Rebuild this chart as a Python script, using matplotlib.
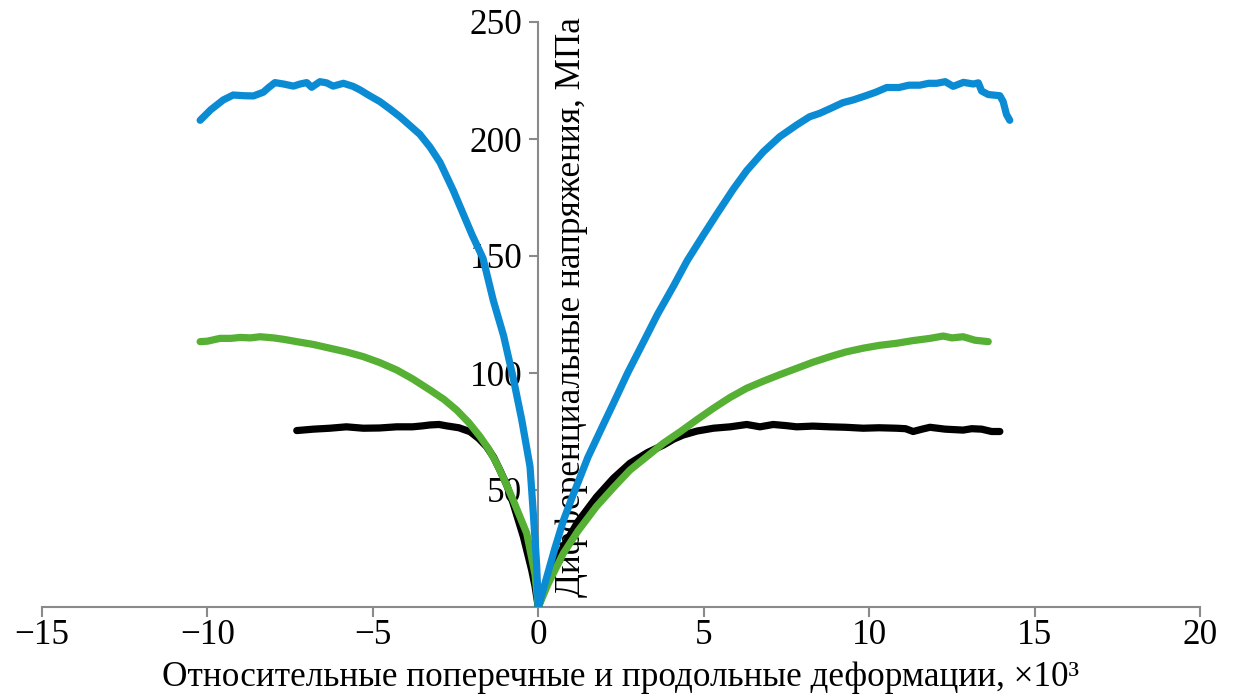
import matplotlib
matplotlib.use("Agg")
import matplotlib.pyplot as plt

plt.rcParams['font.family'] = ['Liberation Serif', 'DejaVu Serif']

# Blue series: axial (right) and lateral (left) strain vs differential stress
blue_right_x = [0, 0.2, 0.5, 0.76, 1.0, 1.5, 2.0, 2.27, 2.7, 3.17, 3.6, 4.08, 4.5, 4.99, 5.4,
                5.89, 6.3, 6.8, 7.3, 7.81, 8.2, 8.51, 8.9, 9.2, 9.52, 9.9, 10.2, 10.53,
                10.9, 11.2, 11.53, 11.8, 12.04, 12.3, 12.54, 12.85, 13.15, 13.3, 13.4,
                13.6, 13.95, 14.05, 14.15, 14.25]
blue_right_y = [0, 10, 25, 37, 46, 64, 79, 87, 100, 113, 125, 137, 148, 159, 168,
                178.5, 186.5, 194.5, 201, 206, 209.5, 211, 213.5, 215.5, 216.7, 218.5, 220, 222,
                222, 223, 223, 223.8, 223.8, 224.5, 222.5, 224.2, 223.5, 224, 220.5,
                219, 218.5, 216, 210.5, 208]
blue_left_x = [0, -0.05, -0.15, -0.25, -0.5, -0.76, -1.05, -1.36, -1.67, -2.0, -2.27, -2.57,
               -2.97, -3.27, -3.58, -3.9, -4.18, -4.5, -4.79, -5.1, -5.39, -5.6, -5.89,
               -6.2, -6.4, -6.6, -6.85, -7.0, -7.2, -7.4, -7.7, -7.96, -8.15, -8.31,
               -8.61, -8.9, -9.22, -9.52, -9.9, -10.22]
blue_left_y = [0, 18, 40, 60, 80, 98, 116, 131, 149, 159, 168, 178,
               190, 196.5, 202, 206, 209.5, 213, 216, 218.5, 221, 222.5, 223.8,
               222.6, 224, 224.5, 222.1, 224.1, 223.5, 222.6, 223.5, 224.1, 222, 220,
               218.4, 218.5, 218.8, 216.7, 212.5, 208]

# Green series
green_right_x = [0, 0.3, 0.76, 1.2, 1.76, 2.27, 2.77, 3.3, 3.78, 4.3, 4.79, 5.3, 5.79, 6.3,
                 6.8, 7.3, 7.81, 8.3, 8.82, 9.3, 9.82, 10.3, 10.83, 11.3, 11.84, 12.24,
                 12.5, 12.84, 13.2, 13.6]
green_right_y = [0, 10, 23, 32.5, 43, 51, 58.5, 64.5, 70, 75, 80, 85, 89.5, 93.5,
                 96.5, 99.3, 102, 104.6, 107, 109, 110.6, 111.8, 112.7, 113.8, 114.8, 115.8,
                 115, 115.5, 114, 113.4]
green_left_x = [0, -0.1, -0.35, -0.76, -1.0, -1.26, -1.5, -1.76, -2.1, -2.47, -2.85, -3.27,
                -3.8, -4.28, -4.8, -5.29, -5.8, -6.3, -6.8, -7.3, -7.7, -8.0, -8.41, -8.7,
                -9.0, -9.3, -9.62, -10.0, -10.22]
green_left_y = [0, 14, 31.5, 45.7, 53.5, 61.4, 67.5, 72.8, 78.8, 84.2, 88.7, 92.7,
                97.5, 101.3, 104.5, 107, 109, 110.6, 112.2, 113.4, 114.4, 115, 115.5, 115,
                115.2, 114.8, 114.8, 113.6, 113.4]

# Black series
black_right_x = [0, 0.3, 0.76, 1.2, 1.76, 2.27, 2.77, 3.3, 3.78, 4.1, 4.38, 4.8, 5.29, 5.8,
                 6.3, 6.7, 7.1, 7.5, 7.81, 8.3, 8.82, 9.3, 9.82, 10.3, 10.83, 11.1, 11.33,
                 11.6, 11.84, 12.3, 12.84, 13.1, 13.4, 13.7, 13.95]
black_right_y = [0, 12, 25.8, 36.5, 47, 55, 61.4, 66, 69.2, 71.8, 73.5, 75.2, 76.4, 77,
                 78, 77, 78, 77.5, 77, 77.3, 77, 76.8, 76.4, 76.6, 76.4, 76.2, 75,
                 76, 76.8, 76, 75.6, 76.2, 76, 75, 75]
black_left_x = [0, -0.1, -0.2, -0.45, -0.76, -0.95, -1.16, -1.35, -1.56, -1.8, -2.06, -2.4,
                -2.77, -3.0, -3.27, -3.5, -3.8, -4.28, -4.8, -5.29, -5.8, -6.3, -6.8, -7.3]
black_left_y = [0, 9, 15.8, 30, 44.3, 52, 58.5, 64, 68.5, 72, 74.9, 76.6,
                77.4, 78, 77.8, 77.4, 77, 77, 76.5, 76.4, 77, 76.4, 76, 75.4]

x_ticks = [-15, -10, -5, 0, 5, 10, 15, 20]
y_ticks = [50, 100, 150, 200, 250]
x_label = "Относительные поперечные и продольные деформации, ×10³"
y_label = "Дифференциальные напряжения, МПа"

BLUE = "#0a8bd3"
GREEN = "#55b033"
BLACK = "#000000"
AXIS = "#8a8a8a"
FS = 25.3

fig = plt.figure(figsize=(12.35, 6.95), dpi=100)
ax = fig.add_axes([42 / 1235, 88 / 695, 1158 / 1235, 585 / 695])

line_kw = dict(lw=5.2, solid_capstyle="round", solid_joinstyle="round", zorder=2)
for xs, ys, c in [(black_left_x, black_left_y, BLACK), (black_right_x, black_right_y, BLACK),
                  (green_left_x, green_left_y, GREEN), (green_right_x, green_right_y, GREEN),
                  (blue_left_x, blue_left_y, BLUE), (blue_right_x, blue_right_y, BLUE)]:
    ax.plot(xs, ys, color=c, **line_kw)

ax.set_xlim(-15, 20)
ax.set_ylim(0, 250)
ax.spines['top'].set_visible(False)
ax.spines['right'].set_visible(False)
ax.spines['left'].set_position(('data', 0))
for s in ('left', 'bottom'):
    ax.spines[s].set_color(AXIS)
    ax.spines[s].set_linewidth(1.5)
    ax.spines[s].set_zorder(0.5)

ax.set_xticks(x_ticks)
ax.set_xticklabels([str(v).replace('-', '\u2212') for v in x_ticks])
ax.set_yticks(y_ticks)
ax.tick_params(axis='both', colors=AXIS, labelcolor='black', labelsize=FS,
               width=1.5, direction='out')
ax.tick_params(axis='x', length=7, pad=2)
ax.tick_params(axis='y', length=6.5, pad=5)
ax.set_axisbelow(True)

ax.set_xlabel(x_label, fontsize=FS, labelpad=6)
ax.text(0.457, 0.512, y_label, transform=ax.transAxes, rotation=90,
        ha='center', va='center', fontsize=FS, zorder=0.5)

fig.savefig("out.png", dpi=100)
